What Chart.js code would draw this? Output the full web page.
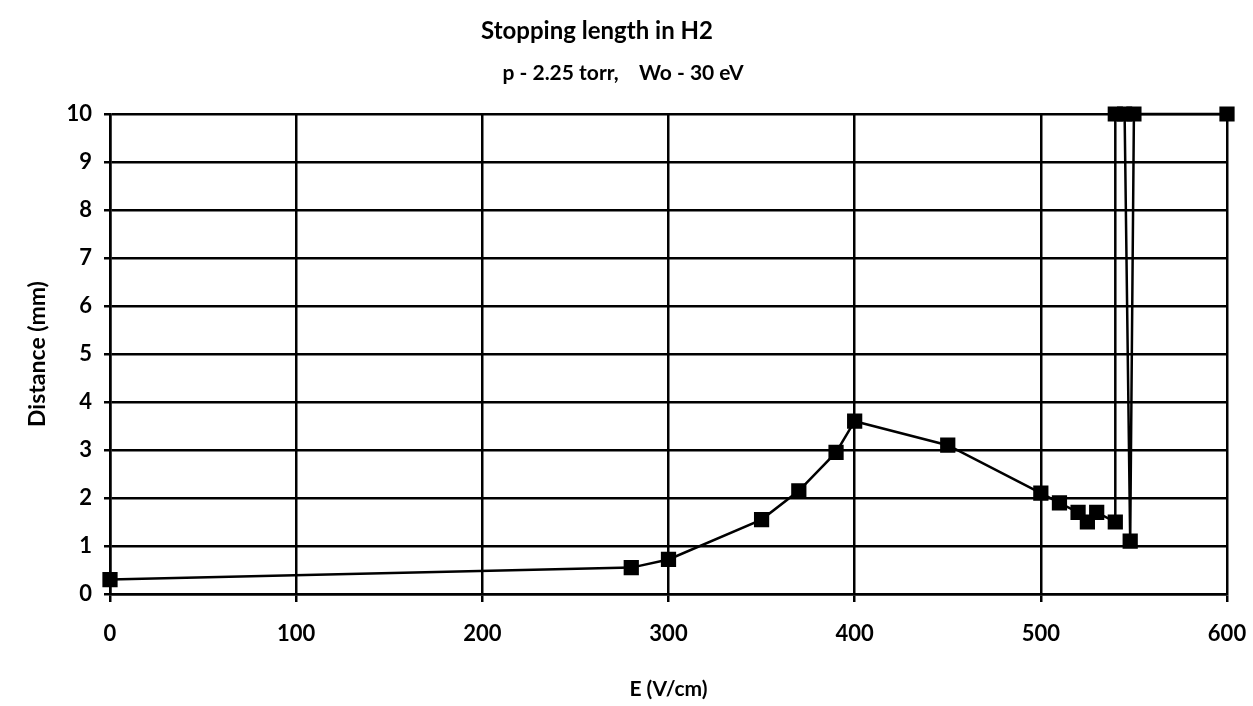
<!DOCTYPE html>
<html>
<head>
<meta charset="utf-8">
<script src="https://cdn.jsdelivr.net/npm/chart.js@4.4.0/dist/chart.umd.min.js"></script>
<style>
  html, body { margin: 0; padding: 0; background: #fff; }
  #grafico { display: block; }
</style>
</head>
<body>
<canvas id="grafico" width="1253" height="706"></canvas>
<script>
// valores
const campoE = [0, 280, 300, 350, 370, 390, 400, 450, 500, 510, 520, 525, 530, 540, 540, 545, 548, 550, 600];
const distancia = [0.3, 0.55, 0.72, 1.55, 2.15, 2.95, 3.6, 3.1, 2.1, 1.9, 1.7, 1.5, 1.7, 1.5, 10, 10, 1.1, 10, 10];
const ticksX = [0, 100, 200, 300, 400, 500, 600];
const ticksY = [0, 1, 2, 3, 4, 5, 6, 7, 8, 9, 10];

const titulo = 'Stopping length in H2';
const subtitulo = 'p - 2.25 torr,    Wo - 30 eV';
const tituloX = 'E (V/cm)';
const tituloY = 'Distance (mm)';

const fuente = "Lato, 'Open Sans', sans-serif";

// titulos dibujados a mano para ubicarlos como en la figura
const titulos = {
    id: 'titulos',
    afterDraw(chart) {
        const ctx = chart.ctx;
        ctx.save();
        ctx.fillStyle = '#000';
        ctx.textAlign = 'center';
        ctx.textBaseline = 'middle';
        ctx.font = 'bold 24px ' + fuente;
        ctx.fillText(titulo, 597, 31);
        ctx.font = 'bold 21px ' + fuente;
        ctx.fillText(subtitulo, 623, 73);
        ctx.restore();
    }
};

const puntos = campoE.map((x, i) => ({ x: x, y: distancia[i] }));

new Chart(document.getElementById('grafico'), {
    type: 'line',
    data: {
        datasets: [{
            data: puntos,
            borderColor: '#000',
            backgroundColor: '#000',
            borderWidth: 2.5,
            pointStyle: 'rect',
            pointRadius: 9,
            pointHoverRadius: 9,
            tension: 0,
            fill: false,
            clip: false
        }]
    },
    options: {
        responsive: false,
        animation: false,
        layout: { padding: { top: 114, right: 0, left: 20, bottom: 0 } },
        plugins: {
            legend: { display: false },
            tooltip: { enabled: false }
        },
        scales: {
            x: {
                type: 'linear',
                min: 0,
                max: 600,
                afterBuildTicks: (eje) => { eje.ticks = ticksX.map(v => ({ value: v })); },
                afterFit: (eje) => {
                    eje.height = 112;
                    eje.paddingLeft = 0;
                    eje.paddingRight = 26;
                },
                grid: { color: '#000', lineWidth: 2.5, tickLength: 8 },
                border: { color: '#000', width: 2.5 },
                ticks: {
                    color: '#000',
                    padding: 19,
                    font: { family: fuente, size: 22, weight: 'bold' }
                },
                title: {
                    display: true,
                    text: tituloX,
                    color: '#000',
                    padding: { top: 16 },
                    font: { family: fuente, size: 21, weight: 'bold' }
                }
            },
            y: {
                min: 0,
                max: 10,
                afterBuildTicks: (eje) => { eje.ticks = ticksY.map(v => ({ value: v })); },
                afterFit: (eje) => { eje.width = 90; },
                grid: { color: '#000', lineWidth: 2.5, tickLength: 6 },
                border: { color: '#000', width: 2.5 },
                ticks: {
                    color: '#000',
                    padding: 12,
                    font: { family: fuente, size: 22, weight: 'bold' }
                },
                title: {
                    display: true,
                    text: tituloY,
                    color: '#000',
                    font: { family: fuente, size: 23, weight: 'bold' }
                }
            }
        }
    },
    plugins: [titulos]
});
</script>
</body>
</html>
